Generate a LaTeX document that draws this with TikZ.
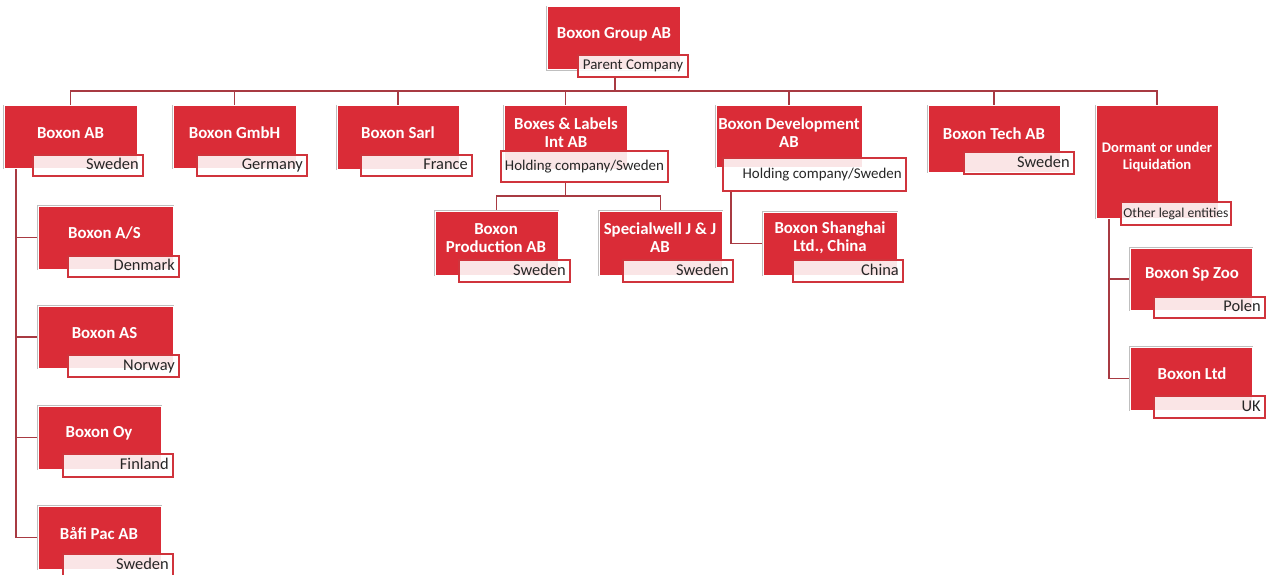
\documentclass[tikz,border=0pt]{standalone}
\usepackage{fontspec}
\setmainfont{Carlito}
\usetikzlibrary{fit}
\definecolor{boxred}{HTML}{DA2C37}
\definecolor{labred}{HTML}{D0343C}
\definecolor{connred}{HTML}{A83A42}
\pgfdeclarelayer{bg}
\pgfsetlayers{bg,main}
\tikzset{
  redbox/.style={fill=boxred, draw=white, line width=0.75pt, inner sep=0pt, outer sep=0pt,
    preaction={draw=black!25, line width=2.2pt}},
  labbox/.style={fill=white, fill opacity=0.88, draw=labred, draw opacity=1, line width=1.1pt, inner sep=0pt, outer sep=0pt},
  btext/.style={text=white, font=\fontsize{12.6}{13.6}\selectfont\bfseries, align=center, inner sep=0pt},
  ltext/.style={text=black!85, font=\fontsize{11.2}{13}\selectfont, inner sep=0pt, text height=7.7pt, text depth=2pt},
  ctext/.style={ltext, font=\fontsize{12.3}{13}\selectfont, anchor=east, text height=8.3pt, text depth=2.3pt},
  conn/.style={draw=connred, line width=1.1pt}
}
\newcommand\ubox[5]{\node[redbox,fit={(#2,#3)(#4,#5)}] (#1) {};}
\newcommand\ulab[5]{\node[labbox,fit={(#2,#3)(#4,#5)}] (#1) {};}
\begin{document}
\begin{tikzpicture}[x=0.75pt,y=-0.75pt]
\useasboundingbox (0,0) rectangle (1269,574);
% parent
\ubox{gp}{547}{7}{680}{70}
\ulab{gpl}{578}{55}{688}{77}
\node[btext] (gpt) at (614,34) {Boxon Group AB};
\node[ltext] (gplt) at (gpl.center) {Parent Company};
% level 1
\ubox{bAB}{4}{106}{137}{168}
\ulab{lAB}{33}{155}{143}{176}
\node[btext] (tAB) at (70.5,133) {Boxon AB};
\node[ctext] (ltAB) at ([xshift=-3pt]lAB.east) {Sweden};

\ubox{bGm}{173}{106}{296}{168}
\ulab{lGm}{197}{155}{307}{176}
\node[btext] (tGm) at (234.5,133) {Boxon GmbH};
\node[ctext] (ltGm) at ([xshift=-3pt]lGm.east) {Germany};

\ubox{bSa}{337}{106}{459}{169}
\ulab{lSa}{361}{155}{472}{176}
\node[btext] (tSa) at (398,133) {Boxon Sarl};
\node[ctext] (ltSa) at ([xshift=-3pt]lSa.east) {France};

\ubox{bBL}{504}{106}{627}{169}
\ulab{lBL}{501}{151}{668}{182}
\node[btext] (tBL) at (566,133) {Boxes \& Labels\\Int AB};
\node[ltext] (ltBL) at (lBL.center) {Holding company/Sweden};

\ubox{bDev}{716}{106}{862}{167}
\ulab{lDev}{723}{158}{906}{191}
\node[btext] (tDev) at (789,133) {Boxon Development\\AB};
\node[ltext,anchor=east] (ltDev) at ([xshift=-3pt]lDev.east) {Holding company/Sweden};

\ubox{bTe}{928}{106}{1060}{172}
\ulab{lTe}{964}{152}{1074}{174}
\node[btext] (tTe) at (994,134) {Boxon Tech AB};
\node[ctext] (ltTe) at ([xshift=-3pt]lTe.east) {Sweden};

\ubox{bDo}{1096}{106}{1218}{218}
\ulab{lDo}{1121}{202}{1231}{225}
\node[btext,font=\fontsize{11}{12.6}\selectfont\bfseries] (tDo) at (1157,157) {Dormant or under\\Liquidation};
\node[ltext,font=\fontsize{10.2}{11}\selectfont] (ltDo) at (lDo.center) {Other legal entities};

% Boxes & Labels children
\ubox{bPr}{435}{211}{558}{275}
\ulab{lPr}{459}{260}{570}{282}
\node[btext] (tPr) at (496,238) {Boxon\\Production AB};
\node[ctext] (ltPr) at ([xshift=-3pt]lPr.east) {Sweden};

\ubox{bSp}{599}{211}{722}{275}
\ulab{lSp}{623}{260}{733}{282}
\node[btext] (tSp) at (660,238) {Specialwell J \& J\\AB};
\node[ctext] (ltSp) at ([xshift=-3pt]lSp.east) {Sweden};

% Development child
\ubox{bSh}{763}{212}{897}{275}
\ulab{lSh}{793}{260}{903}{282}
\node[btext] (tSh) at (830,238) {Boxon Shanghai\\Ltd., China};
\node[ctext] (ltSh) at ([xshift=-3pt]lSh.east) {China};

% Dormant children
\ubox{bSz}{1130}{248}{1252}{310}
\ulab{lSz}{1154}{297}{1265}{318}
\node[btext] (tSz) at (1192,274) {Boxon Sp Zoo};
\node[ctext] (ltSz) at ([xshift=-3pt]lSz.east) {Polen};

\ubox{bLt}{1130}{347}{1252}{410}
\ulab{lLt}{1154}{396}{1265}{418}
\node[btext] (tLt) at (1192,374) {Boxon Ltd};
\node[ctext] (ltLt) at ([xshift=-3pt]lLt.east) {UK};

% Boxon AB children
\ubox{bDk}{38}{206}{173}{269}
\ulab{lDk}{68}{256}{179}{277}
\node[btext] (tDk) at (104.5,233) {Boxon A/S};
\node[ctext] (ltDk) at ([xshift=-3pt]lDk.east) {Denmark};

\ubox{bNo}{38}{306}{173}{368}
\ulab{lNo}{68}{355}{179}{377}
\node[btext] (tNo) at (104.5,333) {Boxon AS};
\node[ctext] (ltNo) at ([xshift=-3pt]lNo.east) {Norway};

\ubox{bFi}{38}{406}{161}{469}
\ulab{lFi}{63}{454}{173}{477}
\node[btext] (tFi) at (99,433) {Boxon Oy};
\node[ctext] (ltFi) at ([xshift=-3pt]lFi.east) {Finland};

\ubox{bBa}{38}{506}{161}{569}
\ulab{lBa}{63}{554}{173}{576}
\node[btext] (tBa) at (99,533) {Båfi Pac AB};
\node[ctext] (ltBa) at ([xshift=-3pt]lBa.east) {Sweden};

% connectors
\coordinate (hub) at (615,91);
\coordinate (abx) at (16,0);
\coordinate (devx) at (731,0);
\coordinate (dox) at (1109,0);
\begin{pgfonlayer}{bg}
\draw[conn] (gpl.south -| hub) -- (hub);
\foreach \c in {bAB,bGm,bSa,bBL,bDev,bTe,bDo} \draw[conn] (hub) -| (\c.north);
\draw[conn] (lBL.south -| bBL.north) -- ++(0,14) coordinate (blhub);
\draw[conn] (blhub) -| (bPr.north);
\draw[conn] (blhub) -| (bSp.north);
\draw[conn] (lDev.south -| devx) |- (bSh.west);
\foreach \c in {bDk,bNo,bFi,bBa} \draw[conn] (bAB.south -| abx) |- (\c.west);
\foreach \c in {bSz,bLt} \draw[conn] (bDo.south -| dox) |- (\c.west);
\end{pgfonlayer}
\end{tikzpicture}
\end{document}
